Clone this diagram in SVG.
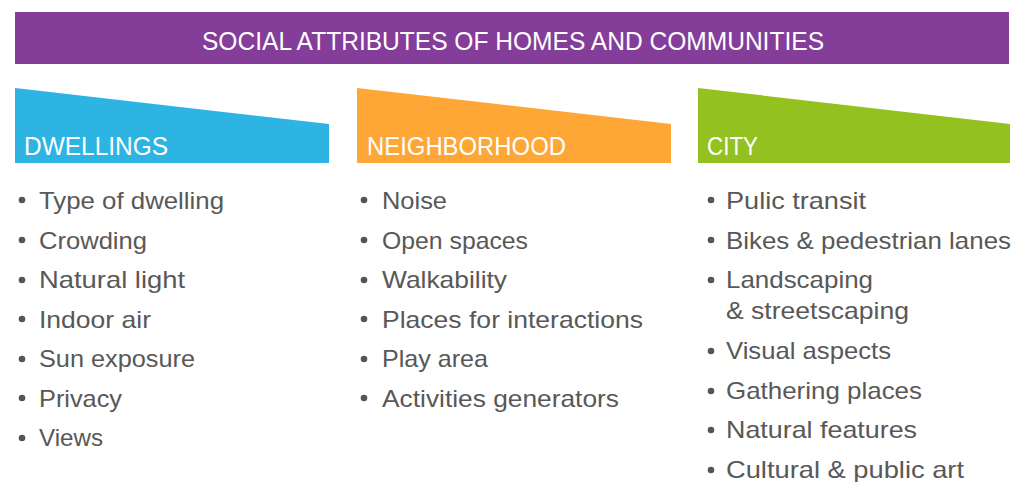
<svg xmlns="http://www.w3.org/2000/svg" width="1026" height="482" viewBox="0 0 1026 482">
<style>
.hd{font-family:"Liberation Sans",Arial,sans-serif;fill:#ffffff;font-size:25px}
.tt{font-family:"Liberation Sans",Arial,sans-serif;fill:#ffffff;font-size:26px}
.it{font-family:"Liberation Sans",Arial,sans-serif;fill:#585858;font-size:24px}
.b{fill:#555555}
</style>
<rect width="1026" height="482" fill="#ffffff"/>
<g id="title">
<rect x="15" y="12" width="994" height="52" fill="#843D98"/>
<text class="tt" x="202" y="50" textLength="622" lengthAdjust="spacingAndGlyphs">SOCIAL ATTRIBUTES OF HOMES AND COMMUNITIES</text>
</g>
<g id="dwellings">
<polygon points="15,88 329,124 329,163 15,163" fill="#2EB4E3"/>
<text class="hd" x="24" y="155" textLength="144" lengthAdjust="spacingAndGlyphs">DWELLINGS</text>
<g id="dwellings-items">
<circle class="b" cx="22" cy="200" r="3.3"/><text class="it" x="39" y="209" textLength="185" lengthAdjust="spacingAndGlyphs">Type of dwelling</text>
<circle class="b" cx="22" cy="240" r="3.3"/><text class="it" x="39" y="249" textLength="108" lengthAdjust="spacingAndGlyphs">Crowding</text>
<circle class="b" cx="22" cy="280" r="3.3"/><text class="it" x="39" y="288" textLength="146" lengthAdjust="spacingAndGlyphs">Natural light</text>
<circle class="b" cx="22" cy="319" r="3.3"/><text class="it" x="39" y="328" textLength="112" lengthAdjust="spacingAndGlyphs">Indoor air</text>
<circle class="b" cx="22" cy="359" r="3.3"/><text class="it" x="39" y="367" textLength="156" lengthAdjust="spacingAndGlyphs">Sun exposure</text>
<circle class="b" cx="22" cy="398" r="3.3"/><text class="it" x="39" y="407" textLength="83" lengthAdjust="spacingAndGlyphs">Privacy</text>
<circle class="b" cx="22" cy="438" r="3.3"/><text class="it" x="39" y="446" textLength="64" lengthAdjust="spacingAndGlyphs">Views</text>
</g>
</g>
<g id="neighborhood">
<polygon points="357,88 671,124 671,163 357,163" fill="#FEA736"/>
<text class="hd" x="367" y="155" textLength="199" lengthAdjust="spacingAndGlyphs">NEIGHBORHOOD</text>
<g id="neighborhood-items">
<circle class="b" cx="364" cy="200" r="3.3"/><text class="it" x="382" y="209" textLength="65" lengthAdjust="spacingAndGlyphs">Noise</text>
<circle class="b" cx="364" cy="240" r="3.3"/><text class="it" x="382" y="249" textLength="146" lengthAdjust="spacingAndGlyphs">Open spaces</text>
<circle class="b" cx="364" cy="280" r="3.3"/><text class="it" x="382" y="288" textLength="125" lengthAdjust="spacingAndGlyphs">Walkability</text>
<circle class="b" cx="364" cy="319" r="3.3"/><text class="it" x="382" y="328" textLength="261" lengthAdjust="spacingAndGlyphs">Places for interactions</text>
<circle class="b" cx="364" cy="359" r="3.3"/><text class="it" x="382" y="367" textLength="106" lengthAdjust="spacingAndGlyphs">Play area</text>
<circle class="b" cx="364" cy="398" r="3.3"/><text class="it" x="382" y="407" textLength="237" lengthAdjust="spacingAndGlyphs">Activities generators</text>
</g>
</g>
<g id="city">
<polygon points="698,88 1010,124 1010,163 698,163" fill="#93C11F"/>
<text class="hd" x="707" y="155" textLength="51" lengthAdjust="spacingAndGlyphs">CITY</text>
<g id="city-items">
<circle class="b" cx="711" cy="200" r="3.3"/><text class="it" x="726" y="209" textLength="140" lengthAdjust="spacingAndGlyphs">Pulic transit</text>
<circle class="b" cx="711" cy="240" r="3.3"/><text class="it" x="726" y="249" textLength="285" lengthAdjust="spacingAndGlyphs">Bikes &amp; pedestrian lanes</text>
<circle class="b" cx="711" cy="280" r="3.3"/><text class="it" x="726" y="288" textLength="147" lengthAdjust="spacingAndGlyphs">Landscaping</text>
<text class="it" x="726" y="319" textLength="183" lengthAdjust="spacingAndGlyphs">&amp; streetscaping</text>
<circle class="b" cx="711" cy="351" r="3.3"/><text class="it" x="726" y="359" textLength="165" lengthAdjust="spacingAndGlyphs">Visual aspects</text>
<circle class="b" cx="711" cy="391" r="3.3"/><text class="it" x="726" y="399" textLength="196" lengthAdjust="spacingAndGlyphs">Gathering places</text>
<circle class="b" cx="711" cy="430" r="3.3"/><text class="it" x="726" y="438" textLength="191" lengthAdjust="spacingAndGlyphs">Natural features</text>
<circle class="b" cx="711" cy="470" r="3.3"/><text class="it" x="726" y="478" textLength="238" lengthAdjust="spacingAndGlyphs">Cultural &amp; public art</text>
</g>
</g>
</svg>
